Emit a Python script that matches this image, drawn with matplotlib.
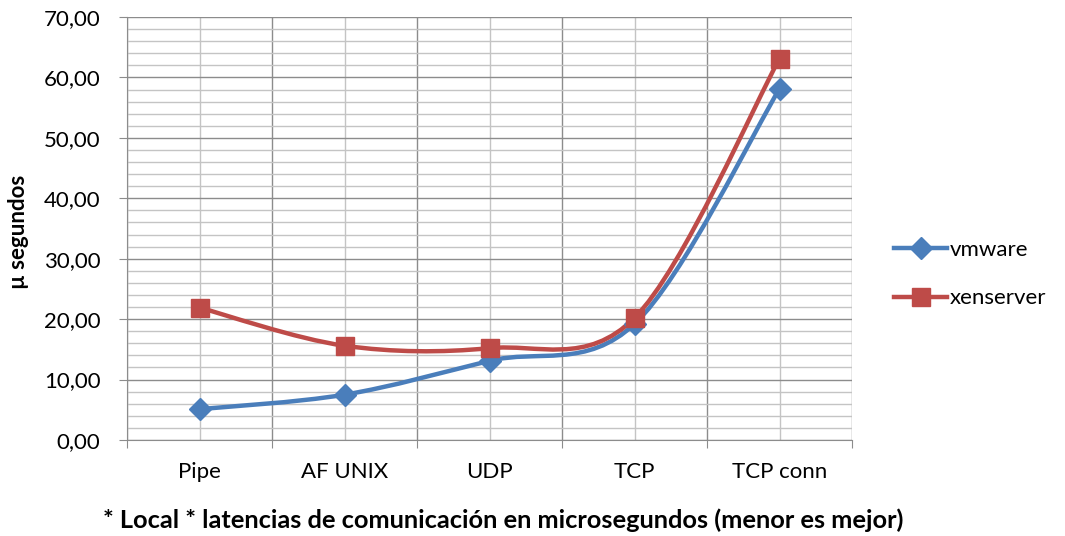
import numpy as np
import matplotlib
matplotlib.use("Agg")
from matplotlib import pyplot as plt
from matplotlib.path import Path
from matplotlib.patches import PathPatch
from matplotlib.ticker import MultipleLocator, FixedLocator, FuncFormatter, NullFormatter
from matplotlib.lines import Line2D

categorie = ["Pipe", "AF UNIX", "UDP", "TCP", "TCP conn"]
vmware = [5.1, 7.5, 13.1, 19.2, 58.1]
xenserver = [21.9, 15.6, 15.2, 20.2, 63.1]

plt.rcParams['font.family'] = ['Lato', 'DejaVu Sans']

def curva_smussata(x, y):
	# spline tipo Excel (Catmull-Rom come Bezier cubiche)
	pts = np.column_stack([x, y]).astype(float)
	ext = np.vstack([pts[0], pts, pts[-1]])
	verts = [pts[0]]
	codes = [Path.MOVETO]
	for i in range(1, len(ext) - 2):
		p0, p1, p2, p3 = ext[i-1], ext[i], ext[i+1], ext[i+2]
		c1 = p1 + (p2 - p0) / 6.0
		c2 = p2 - (p3 - p1) / 6.0
		verts += [c1, c2, p2]
		codes += [Path.CURVE4] * 3
	return Path(verts, codes)

fig = plt.figure(figsize=(10.65, 5.36), dpi=100)
ax = fig.add_axes([127/1065, 1-440/536, (852-127)/1065, (440-17)/536])

xs = np.arange(len(categorie))
serie = [(vmware, "vmware", "#4A7EBB", "D", 11), (xenserver, "xenserver", "#BE4B48", "s", 13)]
for valori, nome, col, mk, ms in serie:
	ax.add_patch(PathPatch(curva_smussata(xs, valori), facecolor="none", edgecolor=col, lw=3.2, zorder=3, capstyle="round"))
	ax.plot(xs, valori, ls="none", marker=mk, ms=ms, color=col, zorder=4)

ax.set_xlim(-0.5, 4.5)
ax.set_ylim(0, 70)

ax.yaxis.set_major_locator(MultipleLocator(10))
ax.yaxis.set_minor_locator(MultipleLocator(2))
ax.yaxis.set_major_formatter(FuncFormatter(lambda v, p: ("%.2f" % v).replace(".", ",")))
ax.xaxis.set_major_locator(FixedLocator(np.arange(-0.5, 5, 1.0)))
ax.xaxis.set_major_formatter(NullFormatter())
ax.xaxis.set_minor_locator(FixedLocator(xs))
ax.xaxis.set_minor_formatter(FuncFormatter(lambda v, p: categorie[int(round(v))]))

ax.grid(which="major", color="#8C8C8C", lw=1.0)
ax.grid(which="minor", color="#C4C4C4", lw=1.0)
ax.set_axisbelow(True)

for s in ["top", "right"]:
	ax.spines[s].set_visible(False)
for s in ["left", "bottom"]:
	ax.spines[s].set_color("#8C8C8C")
ax.tick_params(axis="both", which="major", direction="out", length=6, color="#8C8C8C", labelsize=16, pad=6)
ax.tick_params(axis="x", which="major", pad=10)
ax.tick_params(axis="y", which="major", pad=13)
ax.tick_params(axis="y", which="minor", length=0)
ax.tick_params(axis="x", which="minor", length=0, labelsize=16, pad=16)

fig.text(0.017, 1-232/536, "µ segundos", rotation=90, ha="center", va="center", fontsize=16, fontweight="bold")
fig.text(503/1065, 1-520/536, "* Local * latencias de comunicación en microsegundos (menor es mejor)",
	ha="center", va="center", fontsize=18.3, fontweight="bold")

handles = [Line2D([], [], color=c, lw=3.2, marker=m, ms=ms) for _, _, c, m, ms in serie]
fig.legend(handles, [s[1] for s in serie], loc="center left", bbox_to_anchor=(874/1065, 1-274/536),
	frameon=False, fontsize=16, handlelength=2.4, handletextpad=0.1, labelspacing=1.3)

fig.savefig("out.png", dpi=100)
